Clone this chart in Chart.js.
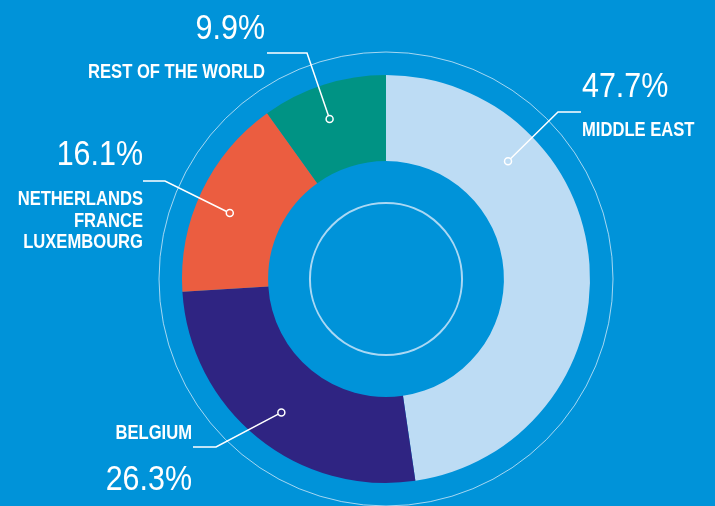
<!DOCTYPE html>
<html>
<head>
<meta charset="utf-8">
<script src="https://cdn.jsdelivr.net/npm/chart.js@4.4.1/dist/chart.umd.min.js"></script>
<style>
  html, body { margin: 0; padding: 0; background: #0093d9; }
  #wrap { width: 715px; height: 506px; position: relative; }
</style>
</head>
<body>
<div id="wrap"><canvas id="shareChart" width="715" height="506"></canvas></div>
<script>
// Data
const categories = [['MIDDLE EAST'], ['BELGIUM'], ['NETHERLANDS', 'FRANCE', 'LUXEMBOURG'], ['REST OF THE WORLD']];
const shares = [47.7, 26.3, 16.1, 9.9];
const sliceColors = ['#bddcf4', '#2f2482', '#eb5d40', '#009384'];

// Label layout (canvas pixels): where the text sits and where the leader line bends
const labelLayout = [
    { align: 'left',  x: 582, pctY: 97,  nameY: 136, lineH: 22, start: [581, 112], elbow: [558, 112], at: 0.268 },
    { align: 'right', x: 192, pctY: 490, nameY: 439, lineH: 22, start: [193, 447], elbow: [216, 447], at: 0.49 },
    { align: 'right', x: 143, pctY: 165, nameY: 205, lineH: 21.5, start: [143, 181], elbow: [165, 181], at: 0.457 },
    { align: 'right', x: 265, pctY: 39,  nameY: 78,  lineH: 22, start: [267, 53], elbow: [307, 53], at: 0.455 }
];

const pctFont = '35px "Liberation Sans", Arial, sans-serif';
const pctSqueeze = 0.87;
const nameFont = 'bold 21px "Liberation Sans", Arial, sans-serif';
const nameSqueeze = 0.79;

// draw text squeezed horizontally (condensed look)
function squeezedText(ctx, text, x, y, sx) {
    ctx.save();
    ctx.translate(x, y);
    ctx.scale(sx, 1);
    ctx.fillText(text, 0, 0);
    ctx.restore();
}

// Thin rings + labels drawn on top of the doughnut
const decorPlugin = {
    id: 'decor',
    afterDatasetsDraw(chart) {
        const ctx = chart.ctx;
        const arcs = chart.getDatasetMeta(0).data;
        const cx = arcs[0].x, cy = arcs[0].y;
        const outer = arcs[0].outerRadius, inner = arcs[0].innerRadius;

        ctx.save();
        // outer thin ring
        ctx.beginPath();
        ctx.arc(cx, cy, outer + 23, 0, Math.PI * 2);
        ctx.strokeStyle = 'rgba(220, 238, 250, 0.75)';
        ctx.lineWidth = 1;
        ctx.stroke();
        // inner ring
        ctx.beginPath();
        ctx.arc(cx, cy, inner * 0.645, 0, Math.PI * 2);
        ctx.strokeStyle = 'rgba(200, 228, 248, 0.85)';
        ctx.lineWidth = 2;
        ctx.stroke();

        arcs.forEach((arc, i) => {
            const lay = labelLayout[i];
            const a = arc.startAngle + (arc.endAngle - arc.startAngle) * lay.at;
            const r = arc.innerRadius + (arc.outerRadius - arc.innerRadius) * 0.6;
            const px = cx + Math.cos(a) * r;
            const py = cy + Math.sin(a) * r;

            // leader line
            ctx.beginPath();
            ctx.moveTo(lay.start[0], lay.start[1]);
            ctx.lineTo(lay.elbow[0], lay.elbow[1]);
            const dx = px - lay.elbow[0], dy = py - lay.elbow[1];
            const len = Math.hypot(dx, dy);
            ctx.lineTo(px - dx / len * 3.5, py - dy / len * 3.5);
            ctx.strokeStyle = '#ffffff';
            ctx.lineWidth = 1.5;
            ctx.stroke();
            // marker
            ctx.beginPath();
            ctx.arc(px, py, 3.5, 0, Math.PI * 2);
            ctx.fillStyle = sliceColors[i];
            ctx.fill();
            ctx.stroke();

            // texts
            ctx.fillStyle = '#ffffff';
            ctx.textAlign = lay.align;
            ctx.textBaseline = 'alphabetic';
            ctx.font = pctFont;
            squeezedText(ctx, shares[i].toFixed(1) + '%', lay.x, lay.pctY, pctSqueeze);
            ctx.font = nameFont;
            categories[i].forEach((line, j) => {
                squeezedText(ctx, line, lay.x, lay.nameY + j * lay.lineH, nameSqueeze);
            });
        });
        ctx.restore();
    }
};

document.addEventListener('DOMContentLoaded', function() {
    const ctx = document.getElementById('shareChart').getContext('2d');
    new Chart(ctx, {
        type: 'doughnut',
        data: {
            labels: categories.map(l => l.join(' ')),
            datasets: [{
                data: shares,
                backgroundColor: sliceColors,
                borderWidth: 0
            }]
        },
        options: {
            responsive: false,
            animation: false,
            cutout: '57.8%',
            layout: { padding: { top: 75, bottom: 23, left: 157, right: 100 } },
            plugins: {
                legend: { display: false },
                tooltip: { enabled: false }
            }
        },
        plugins: [decorPlugin]
    });
});
</script>
</body>
</html>
